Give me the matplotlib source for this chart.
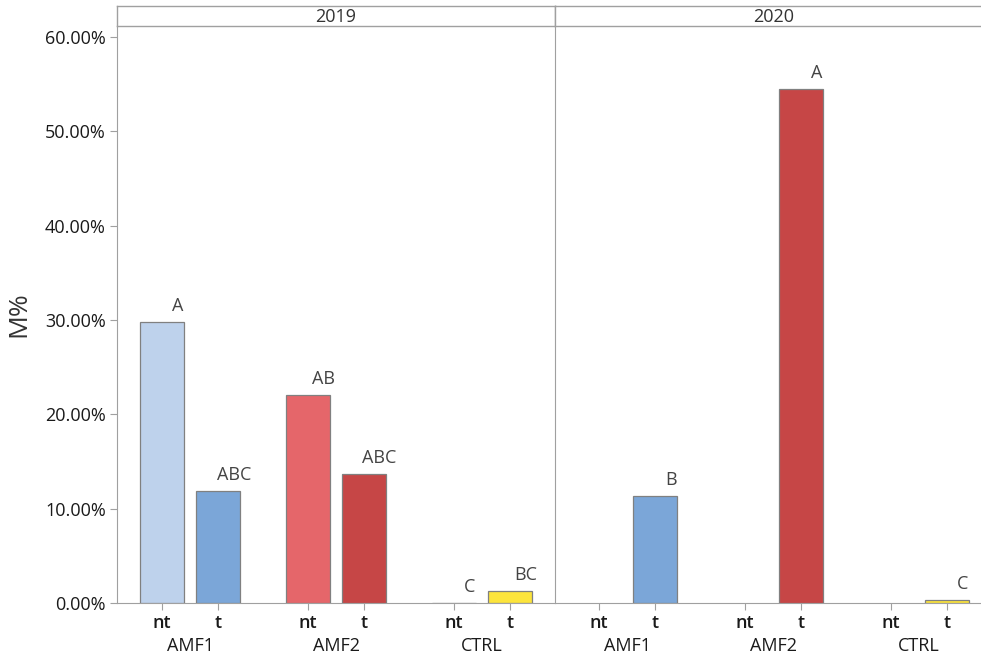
import matplotlib
matplotlib.use("Agg")
import matplotlib.pyplot as plt
from matplotlib.transforms import blended_transform_factory

plt.rcParams['font.family'] = ['Open Sans', 'DejaVu Sans']

# Data
years = ["2019", "2020"]
groups = ["AMF1", "AMF2", "CTRL"]
treatments = ["nt", "t"]
# M% values per year, ordered AMF1 nt, AMF1 t, AMF2 nt, AMF2 t, CTRL nt, CTRL t
values_2019 = [29.8, 11.9, 22.1, 13.7, 0.0, 1.3]
values_2020 = [None, 11.3, None, 54.5, None, 0.35]
letters_2019 = ["A", "ABC", "AB", "ABC", "C", "BC"]
letters_2020 = ["", "B", "", "A", "", "C"]
bar_colors = ["#BED2EC", "#7BA6D8", "#E5666A", "#C64646", "#FCE43C", "#FCE43C"]

yticks = [0, 10, 20, 30, 40, 50, 60]

W, H = 981, 657
fig = plt.figure(figsize=(W / 100, H / 100), dpi=100)

def fx(px):
    return px / W

def fy(py):
    return 1 - py / H

axis_color = "#A0A0A0"
text_dark = "#1A1A1A"
letter_color = "#444444"

# the second facet runs past the right edge of the canvas
panels = [
    (117, 555, values_2019, letters_2019, years[0], (-0.804, 7.018)),
    (555, 993, values_2020, letters_2020, years[1], (-0.786, 7.036)),
]

group_gap = 146 / 56.0
ymax = (603 - 26) / 9.433

for i, (x0, x1, vals, lets, yr, xlim) in enumerate(panels):
    ax = fig.add_axes([fx(x0), fy(603), fx(x1) - fx(x0), fy(26) - fy(603)])
    positions = []
    for g in range(len(groups)):
        for t in range(len(treatments)):
            positions.append(g * group_gap + t)
    for pos, v, lab, col in zip(positions, vals, lets, bar_colors):
        if v is None:
            continue
        ax.bar(pos, v, width=0.80, color=col, edgecolor="#808080", linewidth=0.9, zorder=3)
        if lab:
            ax.annotate(lab, (pos + 0.28, v), xytext=(0, 5), textcoords="offset points",
                        ha="center", va="bottom", fontsize=13, color=letter_color)
    ax.set_xlim(*xlim)
    ax.set_ylim(0, ymax)
    ax.set_xticks(positions)
    ax.set_xticklabels(treatments * len(groups), fontsize=13, fontweight="semibold", color=text_dark)
    ax.tick_params(axis="x", length=5, color=axis_color, pad=3)
    trans = blended_transform_factory(ax.transData, fig.transFigure)
    for g, name in enumerate(groups):
        ax.text(g * group_gap + 0.5, fy(646), name, transform=trans, ha="center", va="center",
                fontsize=13, color=text_dark)
    for s in ["top", "right"]:
        ax.spines[s].set_visible(False)
    ax.spines["bottom"].set_color(axis_color)
    ax.spines["left"].set_color(axis_color)
    if i == 0:
        ax.set_yticks(yticks)
        ax.set_yticklabels([f"{v:.2f}%" for v in yticks], fontsize=13, color=text_dark)
        ax.tick_params(axis="y", length=5, color=axis_color, pad=3)
        ax.set_ylabel("M%", fontsize=19, color="#333333", labelpad=10)
    else:
        ax.set_yticks([])

    # facet header
    sax = fig.add_axes([fx(x0), fy(26), fx(x1) - fx(x0), fy(6) - fy(26)])
    sax.set_xticks([])
    sax.set_yticks([])
    for s in sax.spines.values():
        s.set_color(axis_color)
        s.set_linewidth(1.0)
    sax.text(0.5, 0.45, yr, ha="center", va="center", fontsize=13, color="#333333",
             transform=sax.transAxes)

fig.savefig("out.png", dpi=100)
